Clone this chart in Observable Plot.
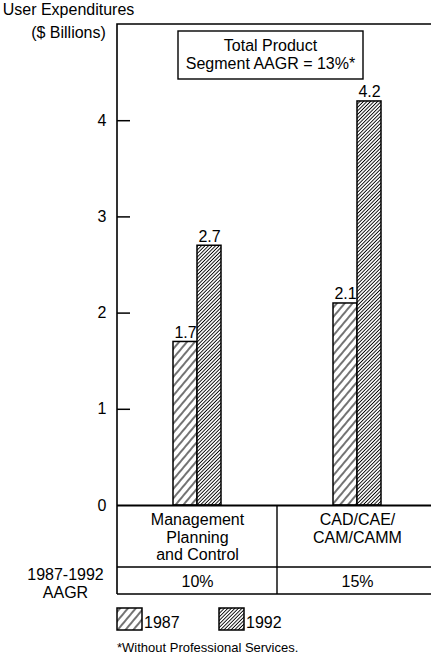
<!DOCTYPE html>
<html>
<head>
<meta charset="utf-8">
<script src="https://cdn.jsdelivr.net/npm/d3@7"></script>
<script src="https://cdn.jsdelivr.net/npm/@observablehq/plot@0.6"></script>
<style>
  html, body { margin: 0; padding: 0; background: #fff; }
  #chart svg { display: block; }
</style>
</head>
<body>
<div id="chart"></div>
<script>
// Segments and their user expenditures, $ billions
const categories = ["Management\nPlanning\nand Control", "CAD/CAE/\nCAM/CAMM"];
const years = ["1987", "1992"];
const values1987 = [1.7, 2.1];
const values1992 = [2.7, 4.2];
const aagr = ["10%", "15%"];
const yTicks = [0, 1, 2, 3, 4];
const yTitle = "User Expenditures\n($ Billions)";
const aagrTitle = "1987-1992\nAAGR";
const totalNote = ["Total Product", "Segment AAGR = 13%*"];
const footnote = "*Without Professional Services.";

const rows1987 = categories.map((category, i) => ({category, year: years[0], value: values1987[i]}));
const rows1992 = categories.map((category, i) => ({category, year: years[1], value: values1992[i]}));

const FONT = "'Liberation Sans', Arial, Helvetica, sans-serif";
const BAR = 24; // width of one bar within its segment band

// Hatch fills: wide strokes for 1987, dense strokes for 1992
function hatchDefs() {
  const g = d3.create("svg:g");
  const defs = g.append("defs");
  const make = (id, size, angle, sw) => {
    const p = defs.append("pattern")
      .attr("id", id)
      .attr("patternUnits", "userSpaceOnUse")
      .attr("width", size).attr("height", size)
      .attr("patternTransform", `rotate(${angle})`);
    p.append("rect").attr("width", size).attr("height", size).attr("fill", "white");
    p.append("line")
      .attr("x1", size / 2).attr("y1", -1).attr("x2", size / 2).attr("y2", size + 1)
      .attr("stroke", "black").attr("stroke-width", sw);
  };
  make("hatch1987", 6, 40, 1.1);
  make("hatch1992", 2.5, 45, 0.9);
  return g.node();
}

// Frame edges, the AAGR table under the axis, the note box, legend and footnote
function decorations(index, scales, values, dimensions) {
  const {width, marginLeft, marginTop} = dimensions;
  const x = scales.x, y = scales.y;
  const base = y(0);
  const row1 = base + 62, row2 = base + 89;
  const divider = x(categories[1]);
  const g = d3.create("svg:g")
    .attr("fill", "none").attr("stroke", "black")
    .attr("font-family", FONT).attr("text-anchor", "start");

  // left and top edges of the frame, left edge continuing through the table
  g.append("path").attr("stroke-width", 1.6)
    .attr("d", `M${width},${marginTop}H${marginLeft}V${row2}`);
  // table rules
  g.append("path").attr("stroke-width", 1.4)
    .attr("d", `M${marginLeft},${row1}H${width}M${marginLeft},${row2}H${width}M${divider},${base}V${row2}`);

  // note box
  const bx = 178, by = 31, bw = 185, bh = 48;
  g.append("rect").attr("x", bx).attr("y", by).attr("width", bw).attr("height", bh)
    .attr("fill", "white").attr("stroke-width", 1.4);
  g.append("text").attr("x", bx + bw / 2).attr("y", by + 20)
    .attr("text-anchor", "middle").attr("fill", "black").attr("stroke", "none")
    .attr("font-size", 16)
    .selectAll("tspan").data(totalNote).join("tspan")
    .attr("x", bx + bw / 2).attr("dy", (d, i) => i ? 18 : 0).text(d => d);

  // legend
  const ly = row2 + 14, sw = 25;
  const items = [
    {label: years[0], fill: "url(#hatch1987)", x: marginLeft},
    {label: years[1], fill: "url(#hatch1992)", x: marginLeft + 102}
  ];
  const li = g.selectAll("g.item").data(items).join("g").attr("class", "item");
  li.append("rect").attr("x", d => d.x).attr("y", ly).attr("width", sw).attr("height", sw - 3)
    .attr("fill", d => d.fill).attr("stroke-width", 1.5);
  li.append("text").attr("x", d => d.x + sw + 2).attr("y", ly + 20)
    .attr("fill", "black").attr("stroke", "none").attr("font-size", 16)
    .text(d => d.label);

  // footnote
  g.append("text").attr("x", marginLeft).attr("y", 652)
    .attr("fill", "black").attr("stroke", "none").attr("font-size", 13)
    .text(footnote);

  return g.node();
}

const chart = Plot.plot({
  width: 431,
  height: 657,
  marginLeft: 117,
  marginRight: 0,
  marginTop: 24,
  marginBottom: 152,
  style: {fontFamily: FONT, fontSize: "16px", color: "black", background: "white"},
  x: {domain: categories, range: [117, 437], padding: 0, axis: null},
  y: {domain: [0, 5], axis: null},
  marks: [
    hatchDefs,
    Plot.barY(rows1987, {
      x: "category", y: "value", fill: "url(#hatch1987)", stroke: "black", strokeWidth: 1.5,
      insetLeft: 160 / 2 - BAR, insetRight: 160 / 2
    }),
    Plot.barY(rows1992, {
      x: "category", y: "value", fill: "url(#hatch1992)", stroke: "black", strokeWidth: 1.5,
      insetLeft: 160 / 2, insetRight: 160 / 2 - BAR
    }),
    Plot.text(rows1987, {x: "category", y: "value", text: d => d.value.toFixed(1), dx: -BAR / 2, dy: -4, lineAnchor: "bottom", fontSize: 16}),
    Plot.text(rows1992, {x: "category", y: "value", text: d => d.value.toFixed(1), dx: BAR / 2, dy: -4, lineAnchor: "bottom", fontSize: 16}),
    Plot.ruleY([0], {strokeWidth: 2}),
    Plot.ruleY(yTicks.filter(t => t > 0), {strokeWidth: 1.5, insetRight: 431 - 117 - 13}),
    Plot.axisY(yTicks, {tickSize: 0, tickPadding: 11, fontSize: 16, label: null, tickFormat: d => String(d)}),
    Plot.text([yTitle], {frameAnchor: "top-left", dx: -49, dy: -25, textAnchor: "middle", lineAnchor: "top", lineHeight: 1.4, fontSize: 16}),
    Plot.text(categories, {x: d => d, text: d => d, frameAnchor: "bottom", lineAnchor: "top", dy: 7, lineHeight: 1.1, fontSize: 16}),
    Plot.text(aagr, {x: categories, text: d => d, frameAnchor: "bottom", lineAnchor: "middle", dy: 76, fontSize: 16}),
    Plot.text([aagrTitle], {frameAnchor: "bottom-left", dx: -52, dy: 78, textAnchor: "middle", lineAnchor: "middle", lineHeight: 1.1, fontSize: 16}),
    decorations
  ]
});

document.getElementById("chart").appendChild(chart);
</script>
</body>
</html>
